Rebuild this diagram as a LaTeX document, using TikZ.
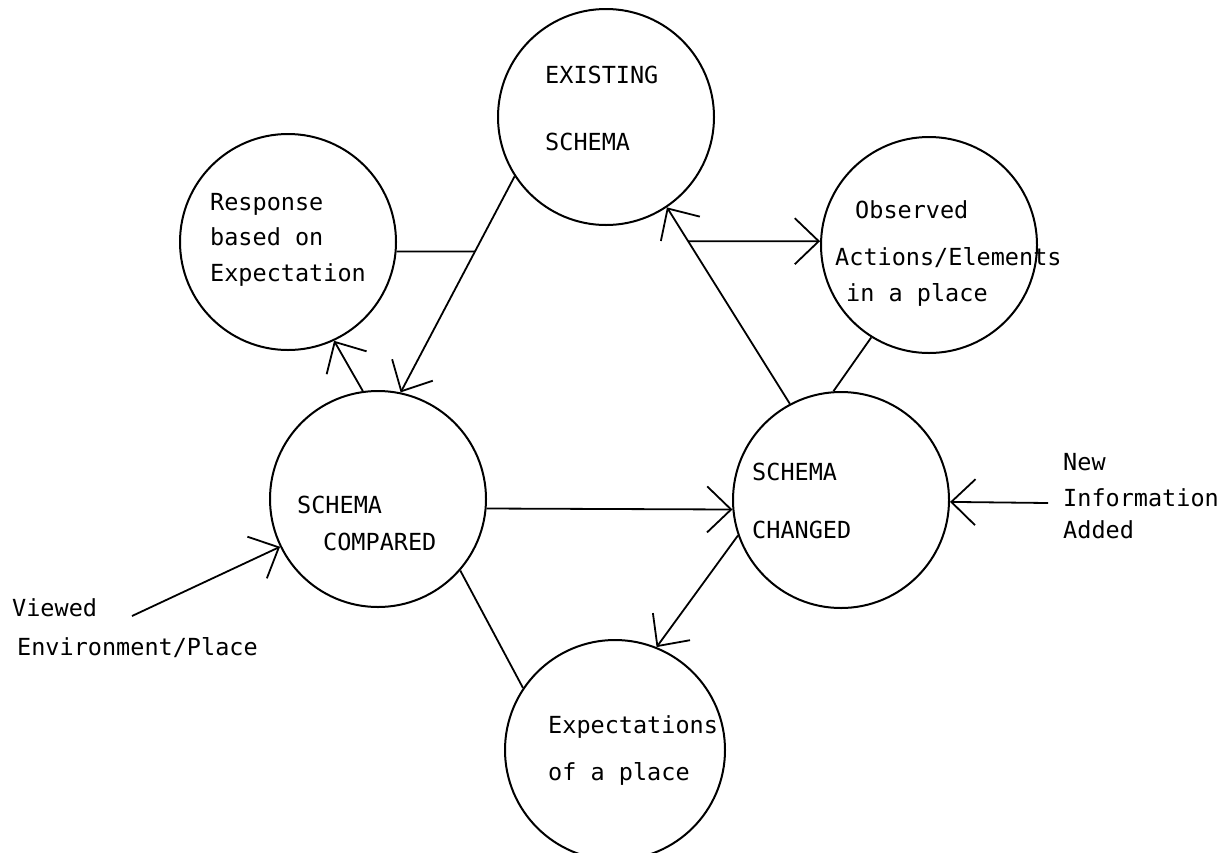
\documentclass[tikz,border=0pt]{standalone}
\usepackage{fontspec}
\setmonofont{DejaVu Sans Mono}
\usetikzlibrary{arrows.meta}
\begin{document}
\begin{tikzpicture}[x=1pt,y=-1pt,
  ring/.style={circle, draw, line width=2pt, inner sep=0pt, minimum size=216pt},
  lbl/.style={anchor=base west, inner sep=0pt, font=\fontsize{23.5}{28}\selectfont\ttfamily},
  conn/.style={line width=1.8pt},
  arr/.style={conn, -{Straight Barb[length=24pt,width=46pt]}},
]
\useasboundingbox (0,0) rectangle (1225,852);
% circles
\node[ring] (exist) at (606,117) {};
\node[ring] (resp) at (288,242) {};
\node[ring] (obs) at (929,245) {};
\node[ring] (comp) at (378,499) {};
\node[ring] (chg) at (841,500) {};
\node[ring, minimum size=220pt] (expc) at (615,750) {};
% labels
\node[lbl] (tex1) at (545,83) {EXISTING};
\node[lbl] (tex2) at (545,150) {SCHEMA};
\node[lbl] (tre1) at (210,210) {Response};
\node[lbl] (tre2) at (210,245) {based on};
\node[lbl] (tre3) at (210,281) {Expectation};
\node[lbl] (tob1) at (855,218) {Observed};
\node[lbl] (tob2) at (835,265) {Actions/Elements};
\node[lbl] (tob3) at (846,301) {in a place};
\node[lbl] (tco1) at (297,513) {SCHEMA};
\node[lbl] (tco2) at (323,550) {COMPARED};
\node[lbl] (tch1) at (752,480) {SCHEMA};
\node[lbl] (tch2) at (752,538) {CHANGED};
\node[lbl] (tnw1) at (1063,470) {New};
\node[lbl] (tnw2) at (1063,506) {Information};
\node[lbl] (tnw3) at (1063,538) {Added};
\node[lbl] (tvw1) at (12,616) {Viewed};
\node[lbl] (tvw2) at (17,655) {Environment/Place};
\node[lbl] (tex3) at (548,733) {Expectations};
\node[lbl] (tex4) at (548,780) {of a place};
% connectors
\draw[arr] (exist.213) -- (comp.78);
\coordinate (rh) at ([xshift=150pt]resp.355);
\draw[conn] (resp.355) -- (intersection of resp.355--rh and exist.213--comp.78);
\draw[arr] (comp.98) -- (resp.295);
\draw[arr] (chg.118) -- (exist.304);
\coordinate (oh) at ([xshift=-200pt]obs.178);
\draw[arr] (intersection of obs.178--oh and chg.118--exist.304) -- (obs.178);
\draw[conn] (obs.238) -- (chg.94);
\draw[arr] (comp.355) -- (chg.185);
\coordinate (newin) at (1048,503);
\draw[arr] (newin) -- (chg.359);
\coordinate (viewin) at (132,616);
\draw[arr] (viewin) -- (comp.206);
\draw[conn] (comp.319) -- (expc.146);
\draw[arr] (chg.199) -- (expc.68);
\end{tikzpicture}
\end{document}
